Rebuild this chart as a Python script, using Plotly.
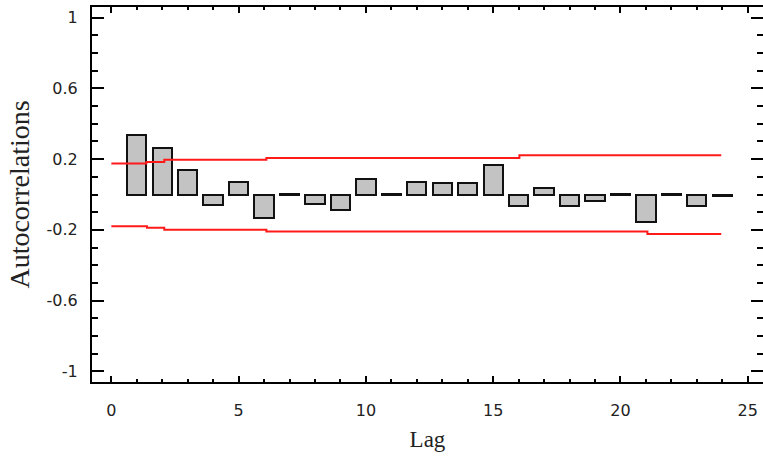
import plotly.graph_objects as go

# ---- data ----
lags = list(range(1, 25))
autocorr = [0.334, 0.261, 0.139, -0.062, 0.073, -0.134, 0.005, -0.052, -0.089, 0.085,
            0.005, 0.073, 0.064, 0.064, 0.164, -0.064, 0.039, -0.066, -0.034, 0.005,
            -0.154, 0.005, -0.066, -0.008]

upper_x = [0, 1.375, 2.08, 6.09, 16.03, 23.96]
upper_lim = [0.175, 0.184, 0.196, 0.207, 0.222, 0.222]
lower_x = [0, 1.40, 2.08, 6.09, 21.06, 23.96]
lower_lim = [-0.179, -0.188, -0.199, -0.209, -0.224, -0.224]

x_tick_vals = [0, 5, 10, 15, 20, 25]
x_tick_text = ["0", "5", "10", "15", "20", "25"]
y_tick_vals = [1, 0.6, 0.2, -0.2, -0.6, -1]
y_tick_text = ["1", "0.6", "0.2", "-0.2", "-0.6", "-1"]

fig = go.Figure()
fig.add_trace(go.Bar(
    x=lags, y=autocorr, width=0.76,
    marker=dict(color="#c3c3c3", line=dict(color="#111111", width=2)),
    showlegend=False, hoverinfo="x+y"))
fig.add_trace(go.Scatter(
    x=upper_x, y=upper_lim, mode="lines", line=dict(color="#ff1a1a", width=2, shape="hv"),
    showlegend=False))
fig.add_trace(go.Scatter(
    x=lower_x, y=lower_lim, mode="lines", line=dict(color="#ff1a1a", width=2, shape="hv"),
    showlegend=False))

tick_font = dict(family="DejaVu Sans", size=16, color="#222222")
fig.update_layout(
    width=763, height=459,
    margin=dict(l=92, r=0, t=7, b=77, autoexpand=False),
    paper_bgcolor="white", plot_bgcolor="white",
    bargap=0,
    xaxis=dict(
        range=[-0.76, 25.6], tickmode="array", tickvals=x_tick_vals, ticktext=x_tick_text,
        ticks="inside", ticklen=6, tickwidth=2, tickcolor="black",
        minor=dict(dtick=1, tick0=0, ticks="inside", ticklen=3, tickwidth=2, tickcolor="black"),
        showline=True, linewidth=2, linecolor="black", mirror="ticks",
        showgrid=False, zeroline=False, tickfont=tick_font, ticklabelstandoff=13,
        automargin=False,
        title=dict(text="Lag", font=dict(family="Liberation Serif", size=23, color="#222222"),
                   standoff=12),
    ),
    yaxis=dict(
        range=[-1.06, 1.06], tickmode="array", tickvals=y_tick_vals, ticktext=y_tick_text,
        ticks="inside", ticklen=12, tickwidth=2, tickcolor="black",
        minor=dict(dtick=0.1, tick0=0, ticks="inside", ticklen=6, tickwidth=2, tickcolor="black"),
        showline=True, linewidth=2, linecolor="black", mirror="ticks",
        showgrid=False, zeroline=False, tickfont=tick_font, ticklabelstandoff=9,
        automargin=False,
        title=dict(text="Autocorrelations",
                   font=dict(family="Liberation Serif", size=28, color="#222222"), standoff=9),
    ),
)

fig.write_html(
    "out.html",
    config={"displayModeBar": False},
    post_script="document.body.style.margin='0';document.body.style.overflow='hidden';",
)
